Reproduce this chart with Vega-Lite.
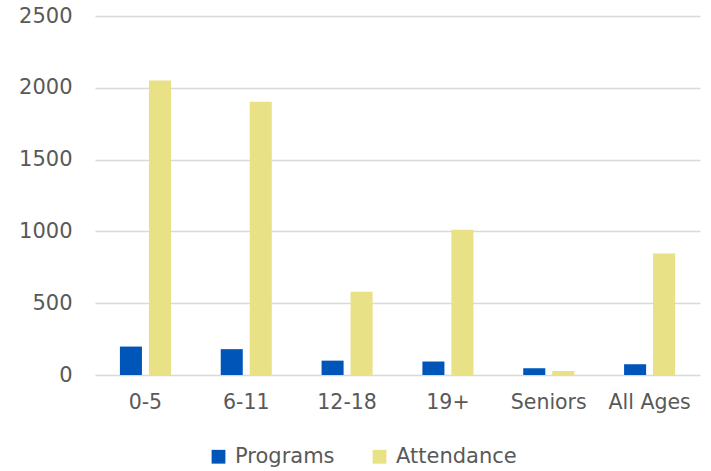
{
  "$schema": "https://vega.github.io/schema/vega-lite/v6.json",
  "width": 605,
  "height": 359,
  "autosize": {"type": "none"},
  "padding": {"left": 95, "top": 16, "right": 11, "bottom": 96},
  "background": "white",
  "config": {"view": {"stroke": null}, "font": "DejaVu Sans"},
  "data": {
    "values": [
      {"age": "0-5", "series": "Programs", "value": 198},
      {"age": "0-5", "series": "Attendance", "value": 2050},
      {"age": "6-11", "series": "Programs", "value": 180},
      {"age": "6-11", "series": "Attendance", "value": 1902},
      {"age": "12-18", "series": "Programs", "value": 100},
      {"age": "12-18", "series": "Attendance", "value": 580},
      {"age": "19+", "series": "Programs", "value": 94},
      {"age": "19+", "series": "Attendance", "value": 1012},
      {"age": "Seniors", "series": "Programs", "value": 47},
      {"age": "Seniors", "series": "Attendance", "value": 28},
      {"age": "All Ages", "series": "Programs", "value": 75},
      {"age": "All Ages", "series": "Attendance", "value": 846}
    ]
  },
  "mark": {"type": "bar"},
  "encoding": {
    "x": {
      "field": "age",
      "type": "nominal",
      "sort": ["0-5", "6-11", "12-18", "19+", "Seniors", "All Ages"],
      "scale": {"paddingInner": 0.494, "paddingOuter": 0.247},
      "axis": {
        "title": null,
        "labelAngle": 0,
        "labelFontSize": 20.5,
        "labelColor": "#595959",
        "labelPadding": 17,
        "ticks": false,
        "domain": false,
        "grid": false
      }
    },
    "xOffset": {
      "field": "series",
      "type": "nominal",
      "sort": ["Programs", "Attendance"],
      "scale": {"paddingInner": 0.24, "paddingOuter": 0}
    },
    "y": {
      "field": "value",
      "type": "quantitative",
      "scale": {"domain": [0, 2500]},
      "axis": {
        "title": null,
        "format": "d",
        "values": [0, 500, 1000, 1500, 2000, 2500],
        "labelFontSize": 21,
        "labelColor": "#595959",
        "labelPadding": 23,
        "ticks": false,
        "domain": false,
        "gridColor": "#d9d9d9",
        "gridWidth": 1.3
      }
    },
    "color": {
      "field": "series",
      "type": "nominal",
      "sort": ["Programs", "Attendance"],
      "scale": {"domain": ["Programs", "Attendance"], "range": ["#0056B8", "#E8E186"]},
      "legend": {
        "title": null,
        "orient": "none",
        "direction": "horizontal",
        "legendX": 113,
        "legendY": 430,
        "symbolType": "square",
        "symbolSize": 190,
        "labelFontSize": 21,
        "labelColor": "#595959",
        "columnPadding": 34,
        "labelOffset": 6
      }
    }
  }
}
